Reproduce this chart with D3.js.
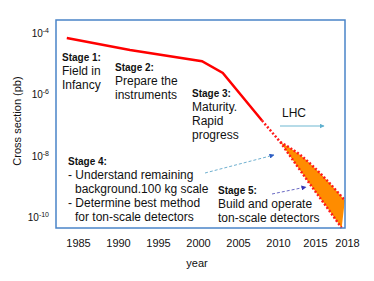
<!DOCTYPE html>
<html>
<head>
<meta charset="utf-8">
<script src="https://cdn.jsdelivr.net/npm/d3@7"></script>
<style>
  body { margin: 0; background: #fff; }
  text { font-family: "Liberation Sans", Arial, sans-serif; fill: #111; }
</style>
</head>
<body>
<div id="chart"></div>
<script>
// measured history (solid red)
const histYears = [1983.6, 1991.5, 2000.5, 2003.1, 2008.0];
const histSigma = [6.9e-5, 2.8e-5, 1.2e-5, 5.0e-6, 1.4e-7];
// dotted bridge to the projection
const bridgeYears = [2008.0, 2010.3];
const bridgeSigma = [1.4e-7, 2.8e-8];
// projected band (upper / lower edges)
const upperYears = [2010.3, 2013.0, 2016.1, 2017.8];
const upperSigma = [2.8e-8, 1.05e-8, 1.6e-9, 3.5e-10];
const lowerYears = [2010.3, 2014.3, 2016.1, 2017.5];
const lowerSigma = [2.8e-8, 1.2e-9, 2.1e-10, 4.4e-11];

const xTicks = [1985, 1990, 1995, 2000, 2005, 2010, 2015, 2018];
const yTicks = [1e-4, 1e-6, 1e-8, 1e-10];
const yTickExp = ["-4", "-6", "-8", "-10"];

const width = 374;
const height = 281;
const plot = { left: 56, top: 20, right: 345, bottom: 228 };

const svg = d3.select("#chart").append("svg")
  .attr("width", width).attr("height", height);

const x = d3.scaleLinear()
  .domain([1985, 2010, 2015, 2018])
  .range([78, 278, 315, 347]);
const y = d3.scaleLog().domain([1e-4, 1e-10]).range([33, 217]);

const zip = (xs, ys) => xs.map((d, i) => [d, ys[i]]);
const line = d3.line().x((d) => x(d[0])).y((d) => y(d[1]));
const smooth = d3.line().x((d) => x(d[0])).y((d) => y(d[1])).curve(d3.curveMonotoneX);

// arrow heads
const defs = svg.append("defs");
[["headBlue", "#2f5fc4"], ["headTeal", "#5fb0cf"], ["headPurple", "#3535b5"]].forEach(([id, c]) => {
  defs.append("marker").attr("id", id)
    .attr("viewBox", "0 0 10 10").attr("refX", 9).attr("refY", 5)
    .attr("markerWidth", 5).attr("markerHeight", 5).attr("markerUnits", "userSpaceOnUse")
    .attr("orient", "auto")
    .append("path").attr("d", "M0,0L10,5L0,10Z").attr("fill", c);
});

// orange band: upper edge then lower edge back
const upperPts = zip(upperYears, upperSigma);
const lowerPts = zip(lowerYears, lowerSigma);
const bandPath = smooth(upperPts) + smooth(lowerPts.slice().reverse()).replace(/^M/, "L") + "Z";
svg.append("path").attr("d", bandPath).attr("fill", "#ff8c00");

// red lines
svg.append("path").attr("d", line(zip(histYears, histSigma)))
  .attr("fill", "none").attr("stroke", "#ff0000").attr("stroke-width", 2.5);
[zip(bridgeYears, bridgeSigma), upperPts, lowerPts].forEach((pts) => {
  svg.append("path").attr("d", smooth(pts))
    .attr("fill", "none").attr("stroke", "#ff1a1a").attr("stroke-width", 2.5)
    .attr("stroke-dasharray", "2,2");
});

// frame
svg.append("rect")
  .attr("x", plot.left).attr("y", plot.top)
  .attr("width", plot.right - plot.left).attr("height", plot.bottom - plot.top)
  .attr("fill", "none").attr("stroke", "#4a84c8").attr("stroke-width", 1.5);

// x axis labels
const xAxis = svg.append("g")
  .attr("transform", `translate(0,${plot.bottom + 8})`)
  .call(d3.axisBottom(x).tickValues(xTicks).tickFormat(d3.format("d")).tickSize(0));
xAxis.select(".domain").remove();
xAxis.selectAll("text").attr("font-size", 11).attr("font-family", "Liberation Sans, Arial, sans-serif").attr("fill", "#111");

// y tick labels with superscripts
yTicks.forEach((v, i) => {
  const t = svg.append("text").attr("x", 49).attr("y", y(v) + 4)
    .attr("text-anchor", "end").attr("font-size", 10);
  t.append("tspan").text("10");
  t.append("tspan").attr("dy", -4).attr("font-size", 7).text(yTickExp[i]);
});

svg.append("text").attr("x", 197).attr("y", 267).attr("text-anchor", "middle")
  .attr("font-size", 11).text("year");
svg.append("text").attr("transform", "translate(21,121) rotate(-90)")
  .attr("text-anchor", "middle").attr("font-size", 11).text("Cross section (pb)");

// stage annotations
function block(x0, y0, title, lines, indents) {
  svg.append("text").attr("x", x0).attr("y", y0).attr("font-size", 10)
    .attr("font-weight", "bold").text(title);
  lines.forEach((s, i) => {
    svg.append("text").attr("x", x0 + (indents ? indents[i] : 0)).attr("y", y0 + 14 * (i + 1))
      .attr("font-size", 12).text(s);
  });
}
block(62, 61, "Stage 1:", ["Field in", "Infancy"]);
block(115, 71, "Stage 2:", ["Prepare the", "instruments"]);
block(192, 97, "Stage 3:", ["Maturity.", "Rapid", "progress"]);
block(68, 165, "Stage 4:", ["- Understand remaining", "background.100 kg scale", "- Determine best method", "for ton-scale detectors"], [0, 7, 0, 7]);
block(218, 194, "Stage 5:", ["Build and operate", "ton-scale detectors"]);

svg.append("text").attr("x", 282).attr("y", 117).attr("font-size", 12).text("LHC");

// arrows
svg.append("line").attr("x1", 280).attr("y1", 126).attr("x2", 324).attr("y2", 126)
  .attr("stroke", "#6fb8d2").attr("stroke-width", 1.2).attr("marker-end", "url(#headTeal)");
svg.append("line").attr("x1", 205).attr("y1", 173).attr("x2", 274).attr("y2", 155)
  .attr("stroke", "#6fb0d0").attr("stroke-width", 1).attr("stroke-dasharray", "3,2")
  .attr("marker-end", "url(#headBlue)");
svg.append("line").attr("x1", 272).attr("y1", 194).attr("x2", 306).attr("y2", 187)
  .attr("stroke", "#6a6ac4").attr("stroke-width", 1).attr("stroke-dasharray", "3,2")
  .attr("marker-end", "url(#headPurple)");
</script>
</body>
</html>
